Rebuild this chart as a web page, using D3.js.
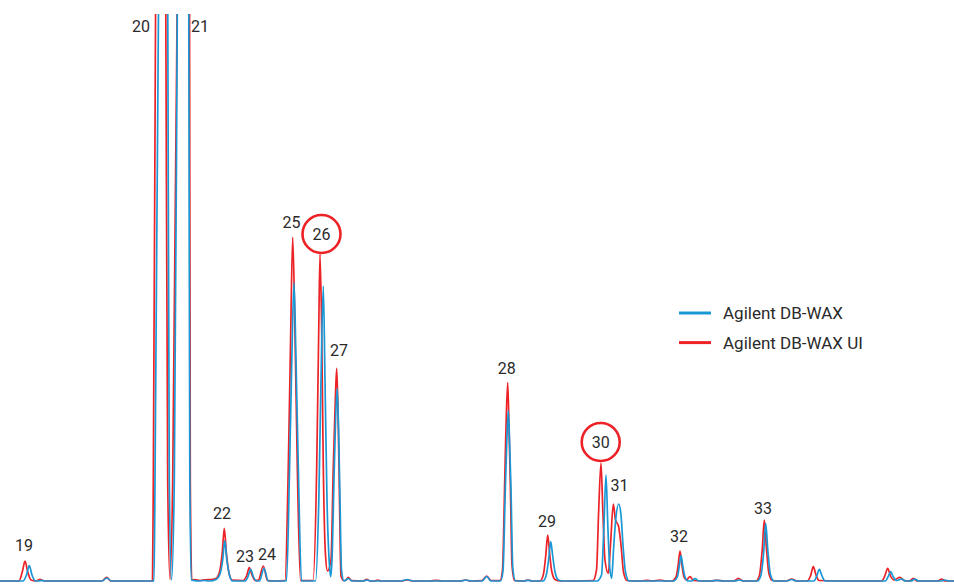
<!DOCTYPE html>
<html>
<head>
<meta charset="utf-8">
<script src="https://cdn.jsdelivr.net/npm/d3@7"></script>
<style>
  html, body { margin: 0; padding: 0; background: #fff; }
  svg { display: block; }
  .trace { fill: none; stroke-width: 1.7; stroke-linejoin: round; }
  .peak-label, .legend-label { font-family: Roboto, "Liberation Sans", sans-serif; fill: #2a2a2a; }
</style>
</head>
<body>
<div id="chart"></div>
<script>
'use strict';

// Agilent DB-WAX (blue): retention time (min) / detector signal
var waxTime = [7.000, 7.230, 7.265, 7.293, 7.320, 7.355, 7.390, 7.417, 7.445, 8.020, 8.067, 8.115,
  8.500, 8.540, 8.550, 8.587, 8.632, 8.677, 8.693, 8.715, 8.743, 8.775, 8.831, 8.887, 8.898, 8.915,
  8.940, 8.980, 9.040, 9.100, 9.160, 9.200, 9.227, 9.248, 9.268, 9.295, 9.325, 9.450, 9.478, 9.507,
  9.533, 9.565, 9.595, 9.640, 9.683, 9.865, 9.896, 9.918, 9.940, 9.960, 9.983, 10.015, 10.155, 10.188,
  10.210, 10.233, 10.250, 10.270, 10.295, 10.307, 10.320, 10.340, 10.356, 10.372, 10.386, 10.400,
  10.415, 10.440, 10.485, 10.520, 10.635, 10.670, 10.710, 11.010, 11.070, 11.130, 11.610, 11.660,
  11.710, 11.820, 11.867, 11.910, 12.005, 12.030, 12.053, 12.067, 12.083, 12.097, 12.110, 12.128,
  12.155, 12.240, 12.280, 12.320, 12.430, 12.465, 12.488, 12.507, 12.527, 12.550, 12.585, 12.630,
  12.970, 13.015, 13.038, 13.060, 13.078, 13.098, 13.117, 13.135, 13.155, 13.187, 13.210, 13.230,
  13.255, 13.290, 13.735, 13.775, 13.793, 13.810, 13.828, 13.850, 13.880, 13.915, 13.950, 13.990,
  14.120, 14.170, 14.220, 14.350, 14.393, 14.440, 14.575, 14.610, 14.636, 14.657, 14.678, 14.703,
  14.740, 14.870, 14.917, 14.960, 15.140, 15.168, 15.193, 15.220, 15.250, 15.855, 15.880, 15.907,
  15.933, 15.970, 16.017, 16.055, 16.110, 16.150, 16.185, 16.410, 16.450, 16.490, 16.540];
var waxSignal = [0, 0, 0.6, 1.53, 0.6, 0, 0, 0.07, 0, 0, 0.3, 0,
  0, 0, 10, 60, 150, 60, 10, 0.1, 10, 60, 150, 60, 10, 0.1,
  0.05, 0, 0.05, 0, 0.15, 0.7, 2.1, 4.03, 2.1, 0.6, 0, 0, 0.4, 1.17,
  0.45, 0, 0, 1.27, 0, 0, 11.43, 22.1, 29.83, 22.1, 11.43, 0, 0, 8.1,
  20.1, 29.5, 20.1, 8.1, 1.5, 0.43, 2.1, 10.1, 16.1, 19.27, 15.1, 8.1,
  1.1, 0, 0.25, 0, 0, 0.1, 0, 0, 0.15, 0, 0, 0.1,
  0, 0, 0.45, 0, 0, 1.0, 9.1, 13.6, 17.03, 13.6, 9.1, 1.3,
  0, 0, 0.07, 0, 0, 0.7, 2.3, 3.93, 2.5, 0.9, 0.1, 0,
  0, 0.6, 5.1, 10.6, 5.6, 1.3, 0.27, 3.1, 5.9, 7.7, 6.6, 3.6,
  0.9, 0, 0, 0.45, 1.5, 2.53, 1.5, 0.4, 0, 0, 0.23, 0,
  0, 0.06, 0, 0, 0.1, 0, 0, 0.6, 2.8, 5.77, 3.1, 0.7,
  0, 0, 0.15, 0, 0, 0.5, 1.17, 0.5, 0, 0, 0.4, 0.93,
  0.4, 0.05, 0.2, 0, 0, 0.2, 0, 0, 0.1, 0, 0];

// Agilent DB-WAX UI (red)
var uiTime = [7.000, 7.190, 7.225, 7.250, 7.275, 7.310, 7.360, 7.400, 7.440, 8.020, 8.067, 8.110,
  8.500, 8.525, 8.533, 8.557, 8.607, 8.657, 8.677, 8.700, 8.727, 8.773, 8.834, 8.895, 8.903, 8.918,
  8.950, 9.000, 9.050, 9.120, 9.160, 9.195, 9.223, 9.243, 9.263, 9.290, 9.320, 9.430, 9.465, 9.493,
  9.520, 9.555, 9.585, 9.633, 9.675, 9.750, 9.850, 9.883, 9.907, 9.927, 9.950, 9.973, 10.005, 10.130,
  10.167, 10.187, 10.200, 10.217, 10.233, 10.255, 10.275, 10.310, 10.333, 10.353, 10.367, 10.380,
  10.390, 10.410, 10.435, 10.455, 10.483, 10.515, 10.630, 10.667, 10.700, 10.745, 10.777, 10.810,
  11.010, 11.070, 11.130, 11.300, 11.360, 11.420, 11.600, 11.657, 11.700, 11.820, 11.867, 11.910,
  12.000, 12.025, 12.047, 12.060, 12.077, 12.090, 12.103, 12.120, 12.145, 12.240, 12.280, 12.320,
  12.400, 12.435, 12.458, 12.477, 12.495, 12.515, 12.550, 12.600, 12.930, 12.965, 12.987, 13.010,
  13.028, 13.050, 13.083, 13.105, 13.133, 13.155, 13.185, 13.210, 13.235, 13.270, 13.420, 13.467,
  13.520, 13.600, 13.660, 13.720, 13.760, 13.783, 13.800, 13.818, 13.840, 13.865, 13.900, 13.935,
  14.100, 14.170, 14.240, 14.340, 14.383, 14.430, 14.560, 14.595, 14.622, 14.643, 14.664, 14.690,
  14.725, 14.860, 14.917, 14.970, 15.070, 15.105, 15.133, 15.160, 15.190, 15.600, 15.815, 15.848,
  15.877, 15.905, 15.940, 16.000, 16.040, 16.095, 16.133, 16.170, 16.380, 16.417, 16.450, 16.540];
var uiSignal = [0, 0, 1.0, 2.0, 1.0, 0.1, 0, 0.17, 0, 0, 0.37, 0,
  0, 0, 10, 60, 150, 60, 10, 0.17, 10, 60, 150, 60, 10, 0.1,
  0.15, 0.05, 0.12, 0.15, 0.25, 0.9, 2.9, 5.27, 2.9, 0.8, 0.1, 0.05, 0.5, 1.33,
  0.6, 0.05, 0.1, 1.5, 0.05, 0, 0.05, 11.43, 24.8, 34.37, 24.8, 11.43, 0.05, 0.05,
  11.43, 24.8, 32.7, 24.8, 11.43, 2.6, 1.0, 2.1, 11.43, 18.1, 21.27, 17.1,
  11.43, 0.5, 0.05, 0.05, 0.37, 0.05, 0, 0.17, 0, 0, 0.1, 0,
  0, 0.1, 0, 0, 0.07, 0, 0, 0.1, 0, 0.05, 0.5, 0.05,
  0.05, 1.1, 9.9, 15.43, 19.83, 15.43, 9.9, 1.6, 0.05, 0, 0.1, 0,
  0, 0.7, 2.6, 4.6, 2.9, 1.1, 0.15, 0, 0.05, 1.1, 7.1, 11.8,
  7.1, 2.1, 0.77, 3.6, 7.7, 6.1, 5.5, 3.6, 0.9, 0.05, 0, 0.07,
  0, 0.1, 0, 0, 0.4, 1.7, 3.0, 1.7, 0.4, 0.1, 0.43, 0.05,
  0, 0.07, 0, 0, 0.27, 0, 0, 0.6, 3.1, 6.1, 3.3, 0.7,
  0.05, 0, 0.2, 0, 0, 0.5, 1.43, 0.6, 0.05, 0, 0, 0.5,
  1.27, 0.5, 0.1, 0.37, 0.05, 0, 0.27, 0, 0, 0.2, 0, 0];

// Peak numbers, where they sit (time, signal level of text baseline), circled ones
var peakNames = ["19", "20", "21", "22", "23", "24", "25", "26", "27", "28", "29", "30", "31", "32", "33"];
var peakTime  = [7.240, 8.410, 9.000, 9.220, 9.450, 9.670, 9.915, 10.215, 10.390, 12.067, 12.470, 13.007, 13.195, 13.790, 14.630];
var peakLevel = [3.0, 54.9, 54.9, 6.2, 1.93, 2.1, 35.3, 34.1, 22.5, 20.7, 5.4, 13.3, 9.0, 3.9, 6.7];
var circled = ["26", "30"];

var seriesNames = ["Agilent DB-WAX", "Agilent DB-WAX UI"];
var seriesColors = ["#1a98d5", "#ec2227"];

var margin = {top: 14, right: 0, bottom: 3, left: 0},
    width = 954 - margin.left - margin.right,
    height = 584 - margin.top - margin.bottom;

var svg = d3.select("#chart").append("svg")
    .attr("width", width + margin.left + margin.right)
    .attr("height", height + margin.top + margin.bottom);

var g = svg.append("g")
    .attr("transform", "translate(" + margin.left + "," + margin.top + ")");

var x = d3.scaleLinear().domain([7.0, 16.54]).range([0, width]);
var y = d3.scaleLinear().domain([0, 56.7]).range([height, 0]);

// off-scale peaks (20, 21) are cut at the top like the original trace
svg.append("defs").append("clipPath")
    .attr("id", "plotclip")
  .append("rect")
    .attr("x", 0).attr("y", 0)
    .attr("width", width).attr("height", height + margin.bottom);

var line = d3.line()
    .x(function(d) { return x(d[0]); })
    .y(function(d) { return y(d[1]); })
    .curve(d3.curveMonotoneX);

var ui = d3.zip(uiTime, uiSignal);
var wax = d3.zip(waxTime, waxSignal);

var traces = g.append("g").attr("clip-path", "url(#plotclip)");

traces.append("path")
    .attr("class", "trace")
    .attr("stroke", seriesColors[1])
    .attr("d", line(ui));

traces.append("path")
    .attr("class", "trace")
    .attr("stroke", seriesColors[0])
    .attr("d", line(wax));

// peak numbers
var labels = g.selectAll(".peak")
    .data(peakNames)
  .enter().append("g")
    .attr("class", "peak")
    .attr("transform", function(d, i) { return "translate(" + x(peakTime[i]) + "," + y(peakLevel[i]) + ")"; });

labels.filter(function(d) { return circled.indexOf(d) >= 0; })
  .append("circle")
    .attr("cx", 0)
    .attr("cy", -6)
    .attr("r", 19)
    .attr("fill", "#fff")
    .attr("stroke", seriesColors[1])
    .attr("stroke-width", 2.6);

labels.append("text")
    .attr("class", "peak-label")
    .attr("text-anchor", "middle")
    .style("font-size", "16px")
    .text(function(d) { return d; });

// legend
var legend = svg.append("g")
    .attr("transform", "translate(679,313)");

var item = legend.selectAll(".item")
    .data(seriesNames)
  .enter().append("g")
    .attr("class", "item")
    .attr("transform", function(d, i) { return "translate(0," + (i * 29.6) + ")"; });

item.append("line")
    .attr("x1", 0).attr("x2", 32)
    .attr("stroke", function(d, i) { return seriesColors[i]; })
    .attr("stroke-width", 3);

item.append("text")
    .attr("class", "legend-label")
    .attr("x", 44)
    .attr("y", 6.3)
    .style("font-size", "17px")
    .text(function(d) { return d; });
</script>
</body>
</html>
